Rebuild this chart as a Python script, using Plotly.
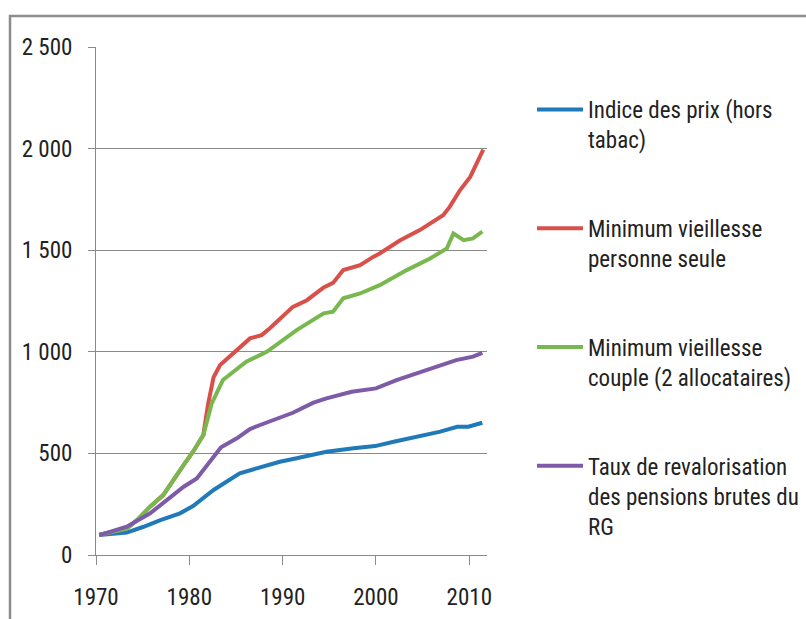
import plotly.graph_objects as go

# ---- data ----
years_prix = [1970.35, 1973.3, 1975.1, 1976.9, 1979.0, 1980.4, 1982.6, 1985.4, 1987.2, 1989.7,
              1991.5, 1994.7, 1997.6, 1999.9, 2001.9, 2004.0, 2006.9, 2008.7, 2009.9, 2011.4]
prix = [98, 110, 139, 172, 205, 241, 320, 402, 426, 459,
        476, 508, 525, 536, 557, 579, 607, 631, 631, 651]

years_seule = [1970.35, 1973.3, 1974.4, 1975.8, 1977.2, 1977.9, 1979.4, 1980.4, 1981.5, 1982.0,
               1982.6, 1983.3, 1984.7, 1986.5, 1987.75, 1988.6, 1991.1, 1992.6, 1994.4, 1995.4,
               1996.5, 1998.3, 1999.7, 2000.4, 2002.6, 2004.7, 2007.2, 2007.9, 2009.0, 2010.1, 2011.5]
seule = [100, 130, 172, 238, 295, 344, 443, 508, 590, 740,
         875, 935, 992, 1066, 1082, 1115, 1221, 1254, 1317, 1339,
         1402, 1426, 1467, 1484, 1549, 1599, 1672, 1713, 1795, 1861, 1995]

years_couple = [1970.35, 1973.3, 1974.4, 1975.8, 1977.2, 1977.9, 1979.4, 1980.4, 1981.5, 1982.4,
                1983.1, 1983.6, 1986.1, 1987.6, 1988.3, 1991.5, 1994.4, 1995.4, 1996.5, 1998.3,
                2000.4, 2003.3, 2005.8, 2007.6, 2008.3, 2009.4, 2010.4, 2011.4]
couple = [100, 130, 172, 238, 295, 344, 443, 508, 590, 746,
          820, 861, 951, 984, 1000, 1107, 1189, 1197, 1263, 1287,
          1328, 1402, 1459, 1509, 1582, 1549, 1558, 1592]

years_rg = [1970.35, 1973.3, 1975.8, 1977.9, 1979.4, 1980.8, 1981.9, 1983.4, 1985.1, 1986.5,
            1988.3, 1991.1, 1993.3, 1994.7, 1997.4, 2000.0, 2002.2, 2005.4, 2008.6, 2010.4, 2011.4]
rg = [98, 139, 205, 279, 336, 377, 443, 530, 574, 620,
      652, 700, 750, 771, 803, 820, 861, 910, 959, 976, 995]

names = ["Indice des prix (hors<br>tabac)",
         "Minimum vieillesse<br>personne seule",
         "Minimum vieillesse<br>couple (2 allocataires)",
         "Taux de revalorisation<br>des pensions brutes du<br>RG"]
colors = ["#2079b8", "#d94f4a", "#78b84f", "#7d5ba6"]

y_ticks = [0, 500, 1000, 1500, 2000, 2500]
y_ticktext = ["0", "500", "1 000", "1 500", "2 000", "2 500"]
x_ticks = [1970, 1980, 1990, 2000, 2010]

FONT = "Liberation Sans Narrow, Roboto Condensed, Arial Narrow, Liberation Sans, sans-serif"

fig = go.Figure()
series = [(years_prix, prix), (years_seule, seule), (years_couple, couple), (years_rg, rg)]
for i, ((xs, ys), nm, c) in enumerate(zip(series, names, colors)):
    fig.add_trace(go.Scatter(x=xs, y=ys, mode="lines", name=nm,
                             line=dict(color=c, width=4), legendgroup=f"g{i}"))

L, R, T, B = 96, 487, 47, 555
W, H = 806, 619

def px2paper_x(px):
    return (px - L) / (R - L)

def px2paper_y(py):
    return (B - py) / (B - T)

fig.update_layout(
    width=W, height=H,
    margin=dict(l=L, r=W - R, t=T, b=H - B, pad=0, autoexpand=False),
    paper_bgcolor="white", plot_bgcolor="white",
    font=dict(family=FONT, size=23, color="#222222"),
    showlegend=True,
    legend=dict(x=px2paper_x(532), y=px2paper_y(88), xanchor="left", yanchor="top",
                valign="top", tracegroupgap=56, itemwidth=46,
                font=dict(family=FONT, size=23, color="#222222"),
                bgcolor="rgba(0,0,0,0)"),
    xaxis=dict(range=[1970, 2011.9], tickvals=x_ticks, ticks="outside", ticklen=9,
               tickcolor="#8a8a8a", showline=True, linecolor="#8a8a8a", linewidth=1,
               showgrid=False, zeroline=False, ticklabelstandoff=12),
    yaxis=dict(range=[0, 2500], tickvals=y_ticks, ticktext=y_ticktext, ticks="outside",
               ticklen=7, tickcolor="#8a8a8a", showline=True, linecolor="#8a8a8a",
               linewidth=1, showgrid=True, gridcolor="#8a8a8a", gridwidth=1,
               zeroline=False, ticklabelstandoff=11),
    shapes=[dict(type="rect", xref="paper", yref="paper",
                 x0=px2paper_x(10), x1=px2paper_x(830),
                 y0=px2paper_y(640), y1=px2paper_y(16),
                 line=dict(color="#8c8c8c", width=2.5), layer="below")],
)

fig.write_html("out.html", config={"displayModeBar": False},
               post_script="document.body.style.margin='0';")
